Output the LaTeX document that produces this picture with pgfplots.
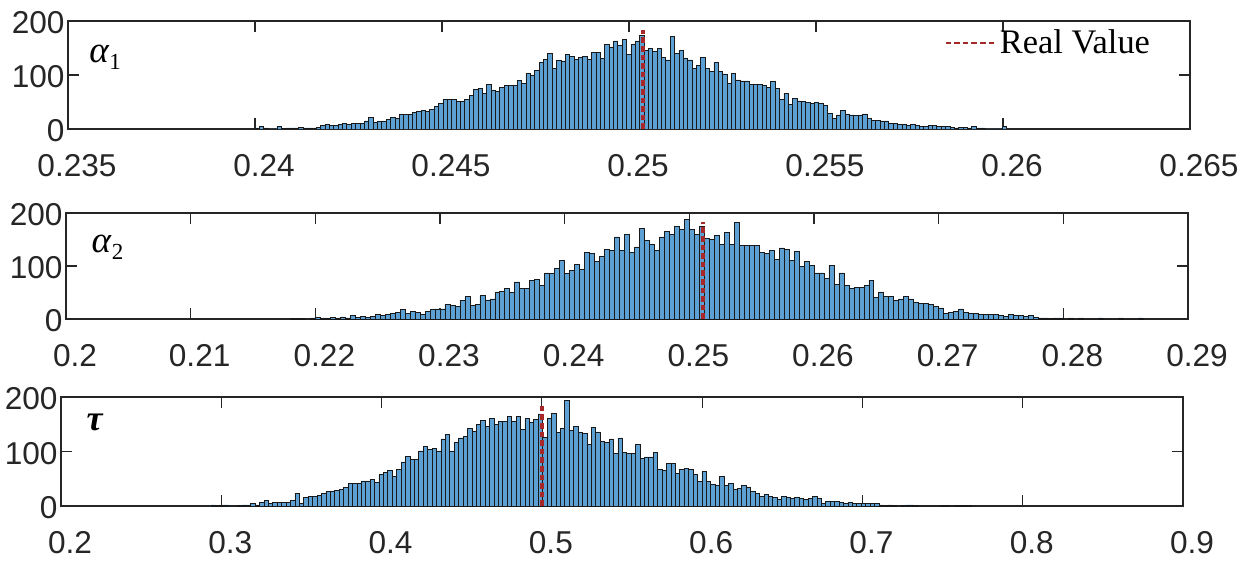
\documentclass[border=0pt]{standalone}
\usepackage{pgfplots}
\pgfplotsset{compat=1.18}
\usepackage{pgfplotstable}
\usepackage{fontspec}
\setmainfont{Liberation Sans}
\newfontfamily\tnr{Liberation Serif}

\definecolor{barblue}{RGB}{92,160,212}
\definecolor{realred}{RGB}{168,40,42}
\definecolor{axisgray}{RGB}{38,38,38}

% bin counts of the three posterior samples (equal-width bins)
% alpha_1: 172 bins from 0.2400, width 0.00011686
\pgfplotstableread[row sep=\\]{n\\
2\\4\\2\\0\\0\\4\\1\\2\\2\\2\\
3\\2\\2\\2\\3\\7\\9\\6\\7\\9\\
11\\9\\11\\11\\11\\15\\22\\12\\14\\14\\
18\\22\\20\\28\\27\\27\\31\\33\\35\\33\\
37\\42\\48\\55\\55\\55\\51\\51\\55\\62\\
73\\75\\66\\82\\72\\69\\77\\80\\80\\80\\
90\\85\\103\\100\\108\\123\\129\\140\\112\\128\\
126\\138\\134\\129\\133\\135\\129\\142\\142\\131\\
157\\152\\163\\154\\166\\138\\157\\163\\173\\145\\
149\\143\\149\\133\\128\\171\\140\\146\\130\\128\\
112\\117\\133\\112\\106\\123\\106\\102\\85\\103\\
91\\89\\89\\83\\82\\82\\80\\77\\88\\75\\
55\\66\\46\\57\\52\\51\\49\\48\\49\\48\\
43\\29\\20\\26\\34\\28\\26\\25\\25\\28\\
20\\16\\16\\15\\15\\10\\11\\9\\8\\7\\
8\\7\\5\\5\\7\\7\\5\\4\\4\\3\\
2\\3\\3\\2\\4\\2\\2\\0\\0\\0\\
0\\4\\
}\histAlphaOne

% alpha_2: 171 bins from 0.2180, width 0.0004
\pgfplotstableread[row sep=\\]{n\\
1\\1\\1\\0\\2\\4\\2\\2\\3\\2\\
4\\2\\6\\3\\5\\3\\5\\8\\7\\9\\
11\\13\\18\\10\\14\\13\\9\\14\\18\\19\\
19\\28\\26\\24\\35\\42\\25\\27\\44\\36\\
38\\51\\52\\57\\50\\70\\58\\58\\73\\75\\
63\\87\\86\\96\\110\\86\\91\\103\\94\\125\\
123\\108\\118\\131\\129\\155\\129\\160\\126\\136\\
171\\148\\141\\129\\155\\165\\160\\174\\169\\188\\
169\\160\\174\\152\\150\\158\\140\\164\\140\\183\\
139\\139\\139\\139\\126\\123\\130\\112\\134\\131\\
110\\128\\99\\109\\101\\87\\87\\77\\101\\66\\
87\\63\\58\\60\\60\\63\\73\\40\\51\\42\\
43\\35\\38\\42\\38\\32\\30\\30\\27\\24\\
21\\11\\13\\14\\19\\13\\10\\11\\8\\9\\
9\\8\\6\\5\\9\\6\\6\\5\\6\\3\\
2\\2\\1\\2\\2\\0\\2\\0\\2\\0\\
0\\0\\2\\0\\0\\0\\2\\0\\0\\0\\
2\\
}\histAlphaTwo

% tau: 172 bins from 0.2935, width 0.00276
\pgfplotstableread[row sep=\\]{n\\
2\\1\\2\\2\\0\\0\\1\\2\\2\\5\\
2\\6\\10\\5\\7\\7\\7\\7\\10\\23\\
5\\16\\18\\18\\20\\23\\27\\27\\29\\30\\
34\\41\\41\\41\\46\\46\\49\\44\\58\\62\\
65\\55\\67\\81\\91\\85\\85\\101\\110\\104\\
106\\101\\123\\131\\101\\116\\125\\127\\142\\137\\
149\\157\\146\\160\\149\\155\\155\\165\\156\\165\\
140\\160\\154\\159\\169\\126\\160\\170\\135\\142\\
193\\138\\146\\135\\133\\113\\144\\136\\118\\116\\
123\\96\\125\\99\\96\\96\\113\\88\\90\\90\\
98\\67\\66\\78\\78\\60\\67\\69\\67\\58\\
45\\63\\45\\40\\38\\54\\37\\41\\30\\32\\
37\\35\\26\\23\\17\\22\\17\\16\\12\\17\\
16\\14\\16\\14\\12\\14\\17\\14\\5\\8\\
8\\8\\7\\5\\7\\5\\4\\5\\4\\5\\
4\\2\\1\\2\\1\\0\\1\\2\\2\\1\\
0\\0\\0\\0\\0\\1\\1\\0\\1\\1\\
1\\1\\
}\histTau

\pgfplotsset{
  panel/.style={
    scale only axis, width=561pt, height=54pt,
    anchor=south west,
    ymin=0, ymax=200,
    ytick={0,100,200}, yticklabels={0,100,200},
    scaled x ticks=false,
    tick align=inside,
    major tick length=5.5pt,
    axis line style={axisgray, line width=0.6pt},
    every tick/.append style={axisgray, line width=0.6pt},
    tick label style={font=\fontsize{15.8}{18}\selectfont, text=axisgray},
    xticklabel style={yshift=-9pt, xshift=4.5pt},
    yticklabel style={xshift=1.8pt, yshift=-1pt},
  },
  bins/.style={ybar, bar shift=0pt, fill=barblue, draw=black!90, line width=0.35pt, forget plot},
  realvalue/.style={realred, line width=1.7pt, dash pattern=on 2.8pt off 1.5pt},
}

\begin{document}
\begin{tikzpicture}
\useasboundingbox (0,0) rectangle (622.5pt,284pt);

% alpha_1
\begin{axis}[panel, at={(34pt,219.5pt)},
  xmin=0.235, xmax=0.265,
  xtick={0.235,0.24,0.245,0.25,0.255,0.26,0.265},
  xticklabels={0.235,0.24,0.245,0.25,0.255,0.26,0.265},
  legend style={at={(0.7807,0.796)}, anchor=west, draw=none, fill=none,
    font=\tnr\fontsize{17.2}{19}\selectfont, text=black, inner sep=0pt},
  legend image code/.code={\draw[#1, line width=1.3pt] (0pt,0pt) -- (24.5pt,0pt);},
]
\addplot[bins, bar width=0.00011686]
  table[x expr={0.24+(\coordindex+0.5)*0.00011686}, y=n]{\histAlphaOne};
\addplot[realvalue] coordinates {(0.25037,0) (0.25037,183)};
\addlegendentry{Real Value}
\node at (rel axis cs:0.033,0.665)
  {\tnr\fontsize{18.5}{20}\selectfont\itshape α\/\raisebox{-0.45ex}{\upshape\fontsize{11.5}{12}\selectfont 1}};
\end{axis}

% alpha_2
\begin{axis}[panel, at={(33pt,124.5pt)}, height=53pt,
  xmin=0.2, xmax=0.29,
  xtick={0.2,0.21,0.22,0.23,0.24,0.25,0.26,0.27,0.28,0.29},
  xticklabels={0.2,0.21,0.22,0.23,0.24,0.25,0.26,0.27,0.28,0.29},
]
\addplot[bins, bar width=0.0004]
  table[x expr={0.218+(\coordindex+0.5)*0.0004}, y=n]{\histAlphaTwo};
\addplot[realvalue] coordinates {(0.25111,0) (0.25111,183)};
\node at (rel axis cs:0.037,0.675)
  {\tnr\fontsize{18.5}{20}\selectfont\itshape α\/\raisebox{-0.45ex}{\upshape\fontsize{11.5}{12}\selectfont 2}};
\end{axis}

% tau
\begin{axis}[panel, at={(30.5pt,31pt)}, height=54.5pt,
  xmin=0.2, xmax=0.9,
  xtick={0.2,0.3,0.4,0.5,0.6,0.7,0.8,0.9},
  xticklabels={0.2,0.3,0.4,0.5,0.6,0.7,0.8,0.9},
]
\addplot[bins, bar width=0.00276]
  table[x expr={0.2935+(\coordindex+0.5)*0.00276}, y=n]{\histTau};
\addplot[realvalue] coordinates {(0.5,0) (0.5,185)};
\node at (rel axis cs:0.030,0.77)
  {\tnr\fontsize{18}{20}\selectfont\bfseries\itshape τ};
\end{axis}
\end{tikzpicture}
\end{document}
